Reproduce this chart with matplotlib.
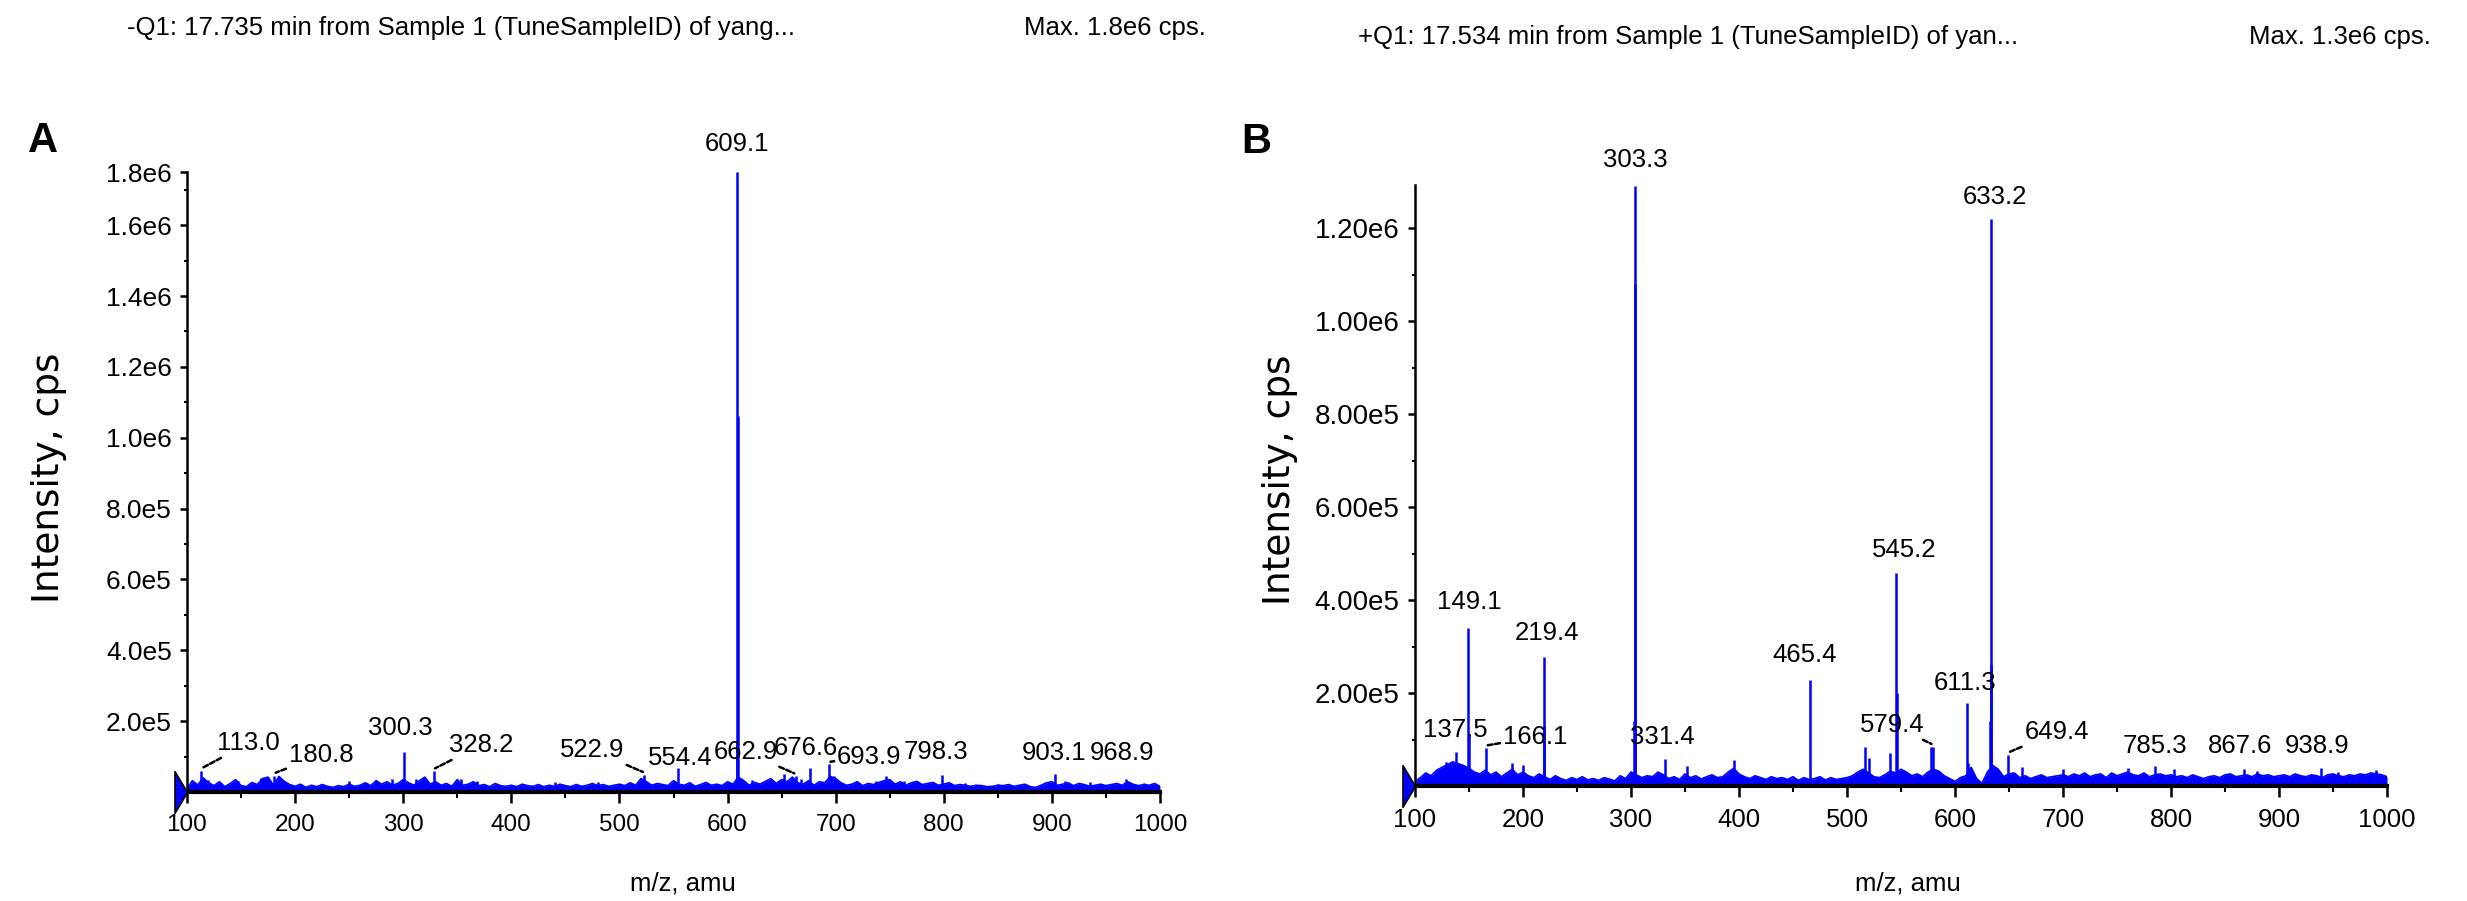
import numpy as np
import matplotlib
matplotlib.use("Agg")
import matplotlib.pyplot as plt
from matplotlib.ticker import MultipleLocator

plt.rcParams['font.family'] = ['Liberation Sans', 'DejaVu Sans']

# ---------------- DATA ----------------
# Panel A (negative mode), noise profile sampled every 5 amu (kcps)
noise_mz = np.arange(100, 1001, 5)
noise_a_k = [
    10, 32, 20, 40, 26, 18, 29, 15, 24, 35, 18, 15, 27, 21, 38, 42, 19, 44, 30, 21,
    16, 22, 13, 19, 15, 21, 16, 13, 18, 15, 22, 16, 19, 26, 18, 32, 22, 29, 19, 24,
    35, 26, 19, 32, 42, 22, 29, 19, 24, 16, 35, 19, 22, 29, 18, 21, 15, 24, 18, 16,
    19, 15, 22, 18, 16, 21, 15, 19, 16, 22, 18, 15, 21, 16, 19, 24, 18, 21, 16, 19,
    22, 18, 26, 19, 38, 29, 19, 24, 21, 18, 32, 22, 19, 26, 16, 21, 27, 19, 22, 18,
    29, 22, 42, 32, 19, 27, 22, 30, 38, 24, 35, 29, 42, 26, 22, 32, 19, 29, 26, 44,
    38, 26, 19, 22, 29, 18, 24, 21, 27, 32, 35, 22, 29, 19, 26, 30, 21, 24, 27, 19,
    22, 26, 18, 21, 19, 16, 19, 18, 15, 16, 19, 18, 21, 16, 19, 22, 15, 13, 19, 26,
    29, 19, 22, 26, 18, 24, 21, 16, 19, 22, 18, 21, 24, 19, 29, 22, 18, 21, 19, 24,
    16,
]
peaks_a_mz = [113.0, 119.5, 147.0, 168.0, 180.8, 250.0, 275.0, 290.0, 300.3, 312.0,
              328.2, 353.0, 368.0, 440.0, 480.0, 522.9, 554.4, 608.6, 609.1, 609.6,
              623.0, 652.0, 662.9, 668.0, 676.6, 693.9, 698.0, 737.0, 747.0, 763.0,
              798.3, 820.0, 850.0, 903.1, 912.0, 935.0, 968.9, 985.0]
peaks_a_int = [5.9e4, 3.5e4, 3.0e4, 4.0e4, 4.6e4, 3.0e4, 3.2e4, 3.6e4, 1.12e5, 3.8e4,
               5.8e4, 3.6e4, 3.2e4, 2.8e4, 2.8e4, 4.8e4, 6.8e4, 1.4e5, 1.75e6, 1.06e6,
               3.4e4, 5.2e4, 4.4e4, 3.8e4, 6.8e4, 7.8e4, 4.5e4, 3.2e4, 4.4e4, 3.0e4,
               4.8e4, 2.6e4, 2.2e4, 5.0e4, 3.0e4, 2.8e4, 3.6e4, 2.5e4]
labels_a = ["113.0", "180.8", "300.3", "328.2", "522.9", "554.4", "609.1",
            "662.9", "676.6", "693.9", "798.3", "903.1", "968.9"]

# Panel B (positive mode)
noise_b_k = [
    10, 18, 28, 22, 34, 40, 46, 52, 48, 44, 38, 30, 26, 34, 24, 30, 20, 28, 36, 24,
    30, 22, 18, 26, 20, 14, 22, 16, 12, 18, 14, 20, 13, 16, 12, 18, 15, 11, 22, 16,
    30, 24, 18, 22, 20, 30, 24, 16, 20, 14, 26, 18, 22, 15, 20, 24, 18, 20, 30, 38,
    26, 20, 16, 22, 18, 14, 20, 16, 18, 14, 20, 12, 18, 14, 16, 20, 13, 18, 14, 16,
    18, 22, 30, 36, 28, 20, 18, 24, 32, 28, 36, 30, 22, 26, 20, 30, 36, 32, 22, 16,
    10, 18, 22, 40, 16, 6, 30, 44, 36, 20, 26, 28, 18, 22, 16, 20, 24, 18, 20, 22,
    24, 20, 26, 22, 28, 20, 24, 26, 18, 28, 22, 26, 30, 24, 22, 28, 20, 24, 26, 22,
    24, 20, 22, 18, 24, 20, 16, 20, 22, 18, 24, 26, 20, 22, 24, 20, 26, 22, 24, 20,
    22, 24, 20, 26, 22, 20, 24, 22, 18, 24, 26, 22, 20, 24, 22, 26, 24, 28, 26, 24,
    20,
]
peaks_b_mz = [129.0, 137.5, 149.1, 150.0, 166.1, 190.0, 200.0, 219.4, 219.9, 302.8,
              303.3, 303.8, 331.4, 352.0, 395.0, 465.4, 517.0, 520.0, 540.0, 545.2,
              546.0, 577.5, 579.4, 611.3, 612.0, 632.6, 633.2, 633.7, 649.4, 662.0,
              700.0, 760.0, 785.3, 803.0, 867.6, 880.0, 938.9, 955.0, 990.0]
peaks_b_int = [5.1e4, 7.3e4, 3.4e5, 1.1e5, 8.2e4, 5.0e4, 4.6e4, 2.78e5, 1.3e5, 1.4e5,
               1.29e6, 1.08e6, 5.8e4, 4.4e4, 5.6e4, 2.28e5, 8.4e4, 6.0e4, 7.1e4, 4.59e5,
               2.0e5, 8.4e4, 8.4e4, 1.78e5, 5.0e4, 1.4e5, 1.22e6, 2.6e5, 6.7e4, 4.0e4,
               3.6e4, 3.8e4, 4.2e4, 3.6e4, 3.6e4, 3.2e4, 3.8e4, 3.0e4, 3.4e4]
labels_b = ["137.5", "149.1", "166.1", "219.4", "303.3", "331.4", "465.4", "545.2",
            "579.4", "611.3", "633.2", "649.4", "785.3", "867.6", "938.9"]

title_a = "-Q1: 17.735 min from Sample 1 (TuneSampleID) of yang..."
title_b = "+Q1: 17.534 min from Sample 1 (TuneSampleID) of yan..."
max_a = "Max. 1.8e6 cps."
max_b = "Max. 1.3e6 cps."
yticks_a = [2e5, 4e5, 6e5, 8e5, 1.0e6, 1.2e6, 1.4e6, 1.6e6, 1.75e6]
yticklabels_a = ["2.0e5", "4.0e5", "6.0e5", "8.0e5", "1.0e6", "1.2e6", "1.4e6", "1.6e6", "1.8e6"]
yticks_b = [2e5, 4e5, 6e5, 8e5, 1.0e6, 1.2e6]
yticklabels_b = ["2.00e5", "4.00e5", "6.00e5", "8.00e5", "1.00e6", "1.20e6"]
xticks = [100, 200, 300, 400, 500, 600, 700, 800, 900, 1000]

# ---------------- LAYOUT (label placement: text centre in data coords, leader flag) ----------------
label_pos_a = {
    "113.0": (157, 1.38e5, True), "180.8": (224, 1.04e5, True), "300.3": (297, 1.80e5, False),
    "328.2": (372, 1.32e5, True), "522.9": (475, 1.18e5, True), "554.4": (556, 0.96e5, False),
    "609.1": (609.1, 1.83e6, False), "662.9": (617, 1.13e5, True), "676.6": (672, 1.24e5, False),
    "693.9": (731, 0.99e5, True), "798.3": (793, 1.13e5, False), "903.1": (902, 1.10e5, False),
    "968.9": (965, 1.10e5, False),
}
label_pos_b = {
    "137.5": (137, 1.20e5, False), "149.1": (150, 3.96e5, False), "166.1": (211, 1.05e5, True),
    "219.4": (222, 3.29e5, False), "303.3": (304, 1.347e6, False), "331.4": (329, 1.05e5, False),
    "465.4": (461, 2.82e5, False), "545.2": (553, 5.08e5, False), "579.4": (542, 1.31e5, True),
    "611.3": (609, 2.22e5, False), "633.2": (637, 1.267e6, False), "649.4": (694, 1.16e5, True),
    "785.3": (785, 0.86e5, False), "867.6": (864, 0.86e5, False), "938.9": (935, 0.86e5, False),
}

W, H = 2467, 901
fig = plt.figure(figsize=(W / 100, H / 100), dpi=100)
BLUE = '#0000ff'


def fx(px):
    return px / W


def fy(py):
    return 1 - py / H


def panel(rect, noise_k, pmz, pint, labels, lpos, ytop, yt, ytl, xfs, yfs):
    ax = fig.add_axes(rect)
    noise = np.array(noise_k) * 1e3
    ax.fill_between(noise_mz, 0, noise, color=BLUE, lw=0, zorder=2)
    ax.plot(noise_mz, noise, color=BLUE, lw=1.2, zorder=2)
    ax.vlines(pmz, 0, pint, color=BLUE, lw=1.8, zorder=3)
    ax.set_xlim(100, 1000)
    ax.set_ylim(0, ytop)
    for s in ('top', 'right'):
        ax.spines[s].set_visible(False)
    ax.spines['left'].set_linewidth(1.8)
    ax.spines['bottom'].set_linewidth(3.0)
    ax.spines['bottom'].set_zorder(5)
    ax.set_xticks(xticks)
    ax.xaxis.set_minor_locator(MultipleLocator(50))
    ax.set_yticks(yt)
    ax.set_yticklabels(ytl)
    ax.yaxis.set_minor_locator(MultipleLocator(1e5))
    ax.tick_params(axis='x', which='major', length=8, width=1.8, pad=8, labelsize=xfs)
    ax.tick_params(axis='x', which='minor', length=4, width=1.5)
    ax.tick_params(axis='y', which='major', length=5, width=1.8, pad=6, labelsize=yfs)
    ax.tick_params(axis='y', which='minor', length=2.5, width=1.5)
    # left triangle marker at origin
    ax.plot([100], [0], marker=[(0, 0), (-0.6, 1), (-0.6, -1), (0, 0)], markersize=30,
            color=BLUE, markeredgecolor='black', markeredgewidth=1.2, clip_on=False, zorder=6)
    pk = dict(zip(pmz, pint))
    for lab in labels:
        lx, ly, lead = lpos[lab]
        mz = float(lab)
        if lead:
            ax.annotate(lab, xy=(mz, pk.get(mz, 4e4) + ytop * 0.004), xytext=(lx, ly),
                        ha='center', va='center', fontsize=18.5, annotation_clip=False,
                        arrowprops=dict(arrowstyle='-', lw=1.8, ls=(0, (2.0, 1.0)),
                                        color='black', shrinkA=0, shrinkB=1))
        else:
            ax.text(lx, ly, lab, ha='center', va='center', fontsize=18.5, clip_on=False, zorder=7)
    return ax


axA = panel([fx(187), fy(792), fx(1160) - fx(187), fy(172) - fy(792)], noise_a_k,
            peaks_a_mz, peaks_a_int, labels_a, label_pos_a, 1.75e6, yticks_a, yticklabels_a,
            17.5, 19)
axB = panel([fx(1415), fy(786), fx(2387) - fx(1415), fy(185) - fy(786)], noise_b_k,
            peaks_b_mz, peaks_b_int, labels_b, label_pos_b, 1.293e6, yticks_b, yticklabels_b,
            18.5, 20)

# titles and annotations
fig.text(fx(127), fy(28), title_a, ha='left', va='center', fontsize=18.5)
fig.text(fx(1206), fy(28), max_a, ha='right', va='center', fontsize=18.5)
fig.text(fx(1358), fy(37), title_b, ha='left', va='center', fontsize=18.5)
fig.text(fx(2431), fy(37), max_b, ha='right', va='center', fontsize=18.5)
fig.text(fx(43), fy(141), "A", ha='center', va='center', fontsize=30, fontweight='bold')
fig.text(fx(1256), fy(142), "B", ha='center', va='center', fontsize=30, fontweight='bold')
for x, y in [(49, 478), (1280, 480)]:
    fig.text(fx(x), fy(y), "Intensity, cps", rotation=90, ha='center', va='center',
             fontsize=27, family=['DejaVu Sans'])
fig.text(fx(683), fy(883), "m/z, amu", ha='center', va='center', fontsize=18.5)
fig.text(fx(1908), fy(883), "m/z, amu", ha='center', va='center', fontsize=18.5)

fig.savefig("out.png", dpi=100, facecolor='white')
